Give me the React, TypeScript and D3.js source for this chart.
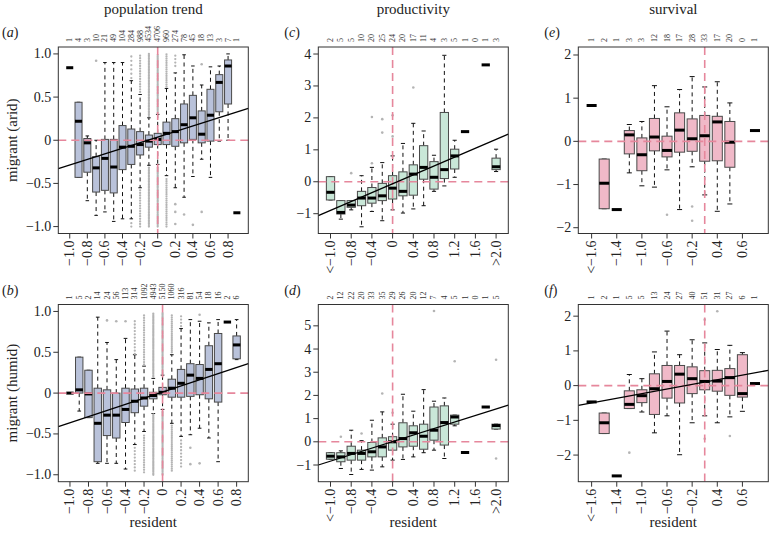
import React from 'react';
import * as d3 from 'd3';

// ---------- Panel (a): population trend, arid ----------
const countsA = [1, 4, 3, 10, 21, 49, 104, 284, 988, 4534, 4706, 960, 274, 78, 45, 18, 13, 3, 7, 1];
const medA = [0.84, 0.22, -0.03, -0.32, -0.21, -0.31, -0.08, -0.07, -0.05, -0.01, 0.01, 0.08, 0.10, 0.18, 0.26, 0.07, 0.29, 0.67, 0.86, -0.84];
const q1A = [0.84, -0.43, -0.37, -0.60, -0.58, -0.61, -0.34, -0.28, -0.17, -0.08, -0.05, -0.05, -0.07, -0.03, 0.01, -0.03, -0.01, 0.33, 0.42, -0.84];
const q3A = [0.84, 0.44, 0.02, -0.19, 0.01, 0.01, 0.17, 0.13, 0.10, 0.06, 0.08, 0.21, 0.25, 0.42, 0.52, 0.34, 0.59, 0.76, 0.93, -0.84];
const loA = [0.84, -0.43, -0.70, -0.87, -0.83, -0.94, -0.91, -0.91, -0.55, -0.29, -0.28, -0.41, -0.55, -0.66, -0.42, -0.22, -0.43, -0.01, 0.0, -0.84];
const hiA = [0.84, 0.44, 0.05, 0.0, 0.9, 0.9, 0.9, 0.69, 0.53, 0.26, 0.30, 0.60, 0.78, 0.99, 0.86, 0.64, 0.85, 0.86, 1.0, -0.84];
const outA: [number, number][] = [[4, 0.92], [13, -0.74], [13, -0.83], [13, -0.97], [14, -0.86], [15, -0.98], [16, 0.88], [16, -0.83]];
const bandsA: [number, number, number, number][] = [
  [8, 0.72, 1.0, 0.05], [8, -1.0, -0.96, 0.04],
  [9, 0.56, 1.0, 0.03], [9, -1.0, -0.57, 0.03],
  [10, 0.28, 1.0, 0.018], [10, -1.0, -0.31, 0.018],
  [11, 0.32, 1.0, 0.018], [11, -1.0, -0.30, 0.018],
  [12, 0.62, 1.0, 0.025], [12, -1.0, -0.43, 0.025],
  [13, 0.86, 1.0, 0.04],
];
const lineA: [number, number] = [-0.33, 0.37];

// ---------- Panel (b): population trend, humid ----------
const countsB = [1, 5, 2, 14, 24, 56, 113, 314, 1092, 4943, 5150, 1060, 316, 81, 54, 18, 16, 2, 6];
const medB = [0.0, 0.04, -0.01, -0.37, -0.27, -0.27, -0.20, -0.10, -0.06, -0.03, 0.01, 0.06, 0.12, 0.22, 0.18, 0.29, 0.36, 0.87, 0.59];
const q1B = [0.0, 0.0, -0.30, -0.84, -0.52, -0.55, -0.36, -0.24, -0.16, -0.07, -0.02, -0.05, -0.05, -0.04, -0.02, -0.07, -0.11, 0.87, 0.42];
const q3B = [0.0, 0.44, 0.28, 0.06, 0.04, 0.0, 0.06, 0.05, 0.06, 0.01, 0.07, 0.17, 0.29, 0.36, 0.35, 0.58, 0.73, 0.87, 0.70];
const loB = [0.0, -0.22, -0.30, -0.86, -0.86, -0.86, -0.93, -0.63, -0.47, -0.25, -0.20, -0.37, -0.53, -0.51, -0.43, -0.55, -0.84, 0.87, 0.41];
const hiB = [0.0, 0.44, 0.28, 0.93, 0.62, 0.41, 0.67, 0.47, 0.33, 0.18, 0.22, 0.47, 0.79, 0.90, 0.88, 0.86, 0.90, 0.87, 0.90];
const outB: [number, number][] = [[5, 0.89], [6, 0.88], [7, 0.88], [14, -0.67], [14, -0.87], [15, 0.96], [15, -0.86]];
const bandsB: [number, number, number, number][] = [
  [8, 0.48, 0.88, 0.04], [8, -0.95, -0.66, 0.04],
  [9, 0.35, 0.96, 0.03], [9, -0.97, -0.50, 0.03],
  [10, 0.20, 0.98, 0.018], [10, -1.0, -0.26, 0.018],
  [11, 0.24, 0.98, 0.018], [11, -1.0, -0.21, 0.018],
  [12, 0.50, 0.96, 0.025], [12, -0.95, -0.40, 0.025],
  [13, 0.82, 0.96, 0.04], [13, -0.90, -0.56, 0.04],
];
const lineB: [number, number] = [-0.41, 0.36];

const labelsTrend = ['\u22121.0', '\u22120.8', '\u22120.6', '\u22120.4', '\u22120.2', '0', '0.2', '0.4', '0.6', '0.8'];

// ---------- Panel (c): productivity, arid ----------
const countsC = [2, 5, 5, 10, 20, 25, 24, 20, 17, 11, 4, 3, 5, 1, 0, 1, 3];
const medC = [-0.33, -0.96, -0.73, -0.51, -0.51, -0.44, -0.20, -0.30, 0.24, 0.45, 0.14, 0.38, 0.81, 1.57, null, 3.66, 0.47];
const q1C = [-0.57, -1.01, -0.80, -0.75, -0.67, -0.59, -0.54, -0.44, -0.42, 0.08, -0.23, 0.10, 0.40, 1.57, null, 3.66, 0.38];
const q3C = [0.16, -0.59, -0.59, -0.30, -0.18, -0.05, 0.19, 0.31, 0.53, 1.13, 0.63, 2.17, 1.02, 1.57, null, 3.66, 0.74];
const loC = [-0.57, -1.17, -0.88, -1.41, -0.93, -1.22, -0.88, -0.98, -0.85, -0.75, -0.30, -0.13, 0.14, 1.57, null, 3.66, 0.32];
const hiC = [0.16, -0.59, -0.59, 0.19, 0.45, 0.60, 0.81, 1.20, 1.83, 1.59, 0.83, 3.96, 1.30, 1.57, null, 3.66, 1.02];
const outC: [number, number][] = [[3, 0.27], [5, 2.03], [5, 0.58], [6, 1.96], [6, 1.54], [7, 2.08], [7, 1.42], [9, 2.95]];
const lineC: [number, number] = [-1.06, 1.49];

// ---------- Panel (d): productivity, humid ----------
const countsD = [2, 12, 22, 20, 33, 35, 29, 26, 20, 12, 7, 4, 5, 1, 0, 1, 5];
const medD = [-0.62, -0.65, -0.50, -0.50, -0.43, -0.22, 0.0, 0.14, 0.39, 0.24, 0.50, 0.83, 1.07, -0.46, null, 1.50, 0.70];
const q1D = [-0.75, -0.86, -0.79, -0.79, -0.65, -0.65, -0.36, -0.22, -0.19, -0.32, 0.07, -0.14, 0.76, -0.46, null, 1.50, 0.55];
const q3D = [-0.47, -0.47, -0.19, -0.36, -0.03, 0.17, 0.22, 0.82, 0.69, 0.76, 1.50, 1.55, 1.15, -0.46, null, 1.50, 0.76];
const loD = [-0.75, -1.15, -1.41, -1.19, -1.22, -1.08, -0.79, -0.76, -0.65, -0.47, -0.36, -0.72, 0.69, -0.46, null, 1.50, 0.55];
const hiD = [-0.47, -0.39, 0.50, 0.05, 0.93, 1.29, 0.76, 2.05, 1.32, 2.25, 1.75, 1.89, 1.15, -0.46, null, 1.50, 0.76];
const outD: [number, number][] = [[2, 0.22], [4, 0.36], [6, 2.08], [7, 1.25], [11, 5.64], [13, 3.47], [17, 3.54], [17, -0.72]];
const lineD: [number, number] = [-1.0, 1.58];

const labelsProd = ['<\u22121.0', '\u22120.8', '\u22120.4', '0', '0.4', '0.8', '1.2', '1.6', '>2.0'];

// ---------- Panel (e): survival, arid ----------
const countsE = [1, 2, 1, 3, 3, 12, 18, 17, 28, 33, 17, 20, 0, 1];
const medE = [0.83, -0.97, -1.58, 0.15, -0.31, 0.10, -0.21, 0.26, 0.06, 0.13, 0.45, -0.02, null, 0.25];
const q1E = [0.83, -1.56, -1.58, -0.29, -0.68, -0.22, -0.36, -0.25, -0.23, -0.46, -0.45, -0.60, null, 0.25];
const q3E = [0.83, -0.41, -1.58, 0.25, 0.08, 0.53, 0.12, 0.66, 0.52, 0.60, 0.58, 0.46, null, 0.25];
const loE = [0.83, -1.56, -1.58, -0.73, -1.03, -1.06, -0.66, -1.58, -0.59, -1.24, -1.62, -1.45, null, 0.25];
const hiE = [0.83, -0.41, -1.58, 0.39, 0.46, 1.29, 0.80, 1.20, 1.50, 1.26, 1.38, 0.89, null, 0.25];
const outE: [number, number][] = [[7, -1.70], [9, -1.51], [9, -1.84]];

// ---------- Panel (f): survival, humid ----------
const countsF = [1, 2, 1, 5, 5, 13, 24, 27, 40, 51, 31, 27, 6, 1];
const medF = [-0.47, -1.07, -2.60, -0.54, -0.29, -0.09, 0.12, 0.33, 0.20, 0.12, 0.13, 0.23, -0.23, 0.06];
const q1F = [-0.47, -1.38, -2.60, -0.66, -0.49, -0.83, -0.36, -0.50, -0.23, -0.12, -0.16, -0.28, -0.33, 0.06];
const q3F = [-0.47, -0.79, -2.60, -0.15, -0.12, 0.34, 0.58, 0.58, 0.54, 0.43, 0.44, 0.49, 0.89, 0.06];
const loF = [-0.47, -1.38, -2.60, -0.66, -0.76, -1.36, -0.87, -1.99, -1.07, -0.87, -1.07, -0.90, -0.74, 0.06];
const hiF = [-0.47, -0.79, -2.60, 0.32, 0.20, 0.97, 1.57, 0.89, 1.32, 1.23, 1.04, 1.16, 0.95, 0.06];
const outF: [number, number][] = [[4, -1.93], [10, 1.90], [10, -1.53], [11, 2.14], [12, -1.45]];
const lineF: [number, number] = [-0.57, 0.44];

const labelsSurv = ['<\u22121.6', '\u22121.4', '\u22121.0', '\u22120.6', '\u22120.2', '0.4', '0.6'];

const titles = ['population trend', 'productivity', 'survival'];
const yTitles = ['migrant (arid)', 'migrant (humid)'];

// ---------- layout ----------
const FONT = "'Liberation Serif', 'Times New Roman', serif";
const PW = 190;
const COL_LEFT = [58.3, 318.3, 578.3];
const ROW_TOP = [47, 304.5];
const ROW_BOT = [233.5, 481.7];
const FILLS = ['#b9c2da', '#c9e7d8', '#f0b9c8'];
const REF = '#e6879c';

type Panel = {
  tag: string; col: number; row: number;
  counts: number[]; med: (number | null)[]; q1: (number | null)[]; q3: (number | null)[];
  lo: (number | null)[]; hi: (number | null)[];
  labels: string[]; yDomain: [number, number]; yTicks: number[]; yLabels: string[];
  zeroPos: number; line?: [number, number]; outs: [number, number][];
  bands?: [number, number, number, number][];
};

const m = (v: number) => (v < 0 ? '\u2212' + Math.abs(v) : String(v));
const m1 = (v: number) => (v === 0 ? '0' : v < 0 ? '\u2212' + Math.abs(v).toFixed(1) : v.toFixed(1));

const panels: Panel[] = [
  { tag: 'a', col: 0, row: 0, counts: countsA, med: medA, q1: q1A, q3: q3A, lo: loA, hi: hiA, labels: labelsTrend,
    yDomain: [-1.08, 1.08], yTicks: [-1, -0.5, 0, 0.5, 1], yLabels: [-1, -0.5, 0, 0.5, 1].map(m1), zeroPos: 11, line: lineA, outs: outA, bands: bandsA },
  { tag: 'b', col: 0, row: 1, counts: countsB, med: medB, q1: q1B, q3: q3B, lo: loB, hi: hiB, labels: labelsTrend,
    yDomain: [-1.085, 1.085], yTicks: [-1, -0.5, 0, 0.5, 1], yLabels: [-1, -0.5, 0, 0.5, 1].map(m1), zeroPos: 11, line: lineB, outs: outB, bands: bandsB },
  { tag: 'c', col: 1, row: 0, counts: countsC, med: medC, q1: q1C, q3: q3C, lo: loC, hi: hiC, labels: labelsProd,
    yDomain: [-1.62, 4.22], yTicks: [-1, 0, 1, 2, 3, 4], yLabels: [-1, 0, 1, 2, 3, 4].map(m), zeroPos: 7, line: lineC, outs: outC },
  { tag: 'd', col: 1, row: 1, counts: countsD, med: medD, q1: q1D, q3: q3D, lo: loD, hi: hiD, labels: labelsProd,
    yDomain: [-1.72, 5.92], yTicks: [-1, 0, 1, 2, 3, 4, 5], yLabels: [-1, 0, 1, 2, 3, 4, 5].map(m), zeroPos: 7, line: lineD, outs: outD },
  { tag: 'e', col: 2, row: 0, counts: countsE, med: medE, q1: q1E, q3: q3E, lo: loE, hi: hiE, labels: labelsSurv,
    yDomain: [-2.134, 2.185], yTicks: [-2, -1, 0, 1, 2], yLabels: [-2, -1, 0, 1, 2].map(m), zeroPos: 10, outs: outE },
  { tag: 'f', col: 2, row: 1, counts: countsF, med: medF, q1: q1F, q3: q3F, lo: loF, hi: hiF, labels: labelsSurv,
    yDomain: [-2.767, 2.336], yTicks: [-2, -1, 0, 1, 2], yLabels: [-2, -1, 0, 1, 2].map(m), zeroPos: 10, line: lineF, outs: outF },
];

function PanelView({ p }: { p: Panel }) {
  const n = p.counts.length;
  const ext = 0.04 * n;
  const left = COL_LEFT[p.col];
  const top = ROW_TOP[p.row];
  const bottom = ROW_BOT[p.row];
  const x = d3.scaleLinear().domain([0.5 - ext, n + 0.5 + ext]).range([left, left + PW]);
  const y = d3.scaleLinear().domain(p.yDomain).range([bottom, top]);
  const step = x(1) - x(0);
  const bw = step * 0.8;
  const cw = bw * 0.5;
  const positions = d3.range(1, n + 1);
  const labelPos = p.labels.map((_, i) => 1 + 2 * i);

  const bandDots: [number, number][] = [];
  (p.bands || []).forEach(([pos, lo, hi, st]) => {
    d3.range(lo, hi + 1e-9, st).forEach((v) => bandDots.push([pos, v]));
  });

  const lineGen = d3.line<[number, number]>().x((d) => x(d[0])).y((d) => y(d[1]));

  return (
    <g>
      {/* boxes */}
      {positions.map((pos, i) => {
        const md = p.med[i];
        if (md == null) return null;
        const q1 = p.q1[i] as number, q3 = p.q3[i] as number;
        const lo = p.lo[i] as number, hi = p.hi[i] as number;
        const cx = x(pos);
        const single = q1 === q3 && lo === hi;
        return (
          <g key={pos}>
            {!single && hi > q3 && (
              <line x1={cx} x2={cx} y1={y(q3)} y2={y(hi)} stroke="#111" strokeWidth={1} strokeDasharray="4,3.5" />
            )}
            {!single && lo < q1 && (
              <line x1={cx} x2={cx} y1={y(q1)} y2={y(lo)} stroke="#111" strokeWidth={1} strokeDasharray="4,3.5" />
            )}
            {!single && (
              <g stroke="#111" strokeWidth={1}>
                <line x1={cx - cw / 2} x2={cx + cw / 2} y1={y(hi)} y2={y(hi)} />
                <line x1={cx - cw / 2} x2={cx + cw / 2} y1={y(lo)} y2={y(lo)} />
              </g>
            )}
            {!single && (
              <rect x={cx - bw / 2} width={bw} y={y(q3)} height={Math.max(0, y(q1) - y(q3))}
                fill={FILLS[p.col]} stroke="#4a4a4a" strokeWidth={1} />
            )}
            <line x1={cx - bw / 2} x2={cx + bw / 2} y1={y(md)} y2={y(md)} stroke="#000" strokeWidth={3} />
          </g>
        );
      })}
      {/* outliers */}
      <g fill="#b4b4b4">
        {bandDots.map(([pos, v], i) => <circle key={'b' + i} cx={x(pos)} cy={y(v)} r={1.15} />)}
        {p.outs.map(([pos, v], i) => <circle key={'o' + i} cx={x(pos)} cy={y(v)} r={1.3} />)}
      </g>
      {/* reference lines */}
      <line x1={left} x2={left + PW} y1={y(0)} y2={y(0)} stroke={REF} strokeWidth={1.6} strokeDasharray="8,5" />
      <line x1={x(p.zeroPos)} x2={x(p.zeroPos)} y1={top} y2={bottom} stroke={REF} strokeWidth={1.6} strokeDasharray="8,5" />
      {/* regression line */}
      {p.line && (
        <path d={lineGen([[x.domain()[0], p.line[0]], [x.domain()[1], p.line[1]]]) || ''} stroke="#000" strokeWidth={1.3} fill="none" />
      )}
      {/* frame */}
      <rect x={left} y={top} width={PW} height={bottom - top} fill="none" stroke="#333" strokeWidth={1} />
      {/* y axis */}
      {p.yTicks.map((t, i) => (
        <g key={'y' + i}>
          <line x1={left - 5} x2={left} y1={y(t)} y2={y(t)} stroke="#333" />
          <text x={left - 7} y={y(t)} textAnchor="end" dominantBaseline="central" fontSize={14} fontFamily={FONT} fill="#222">
            {p.yLabels[i]}
          </text>
        </g>
      ))}
      {/* x axis */}
      {labelPos.map((pos, i) => (
        <g key={'x' + i}>
          <line x1={x(pos)} x2={x(pos)} y1={bottom} y2={bottom + 5} stroke="#333" />
          <text transform={`translate(${x(pos)},${bottom + 7}) rotate(-90)`} textAnchor="end" dominantBaseline="central"
            fontSize={14} fontFamily={FONT} fill="#222">
            {p.labels[i]}
          </text>
        </g>
      ))}
      {/* counts */}
      {positions.map((pos, i) => (
        <text key={'c' + i} transform={`translate(${x(pos)},${top - 5}) rotate(-90)`} textAnchor="start" dominantBaseline="central"
          fontSize={8} fontFamily={FONT} fill="#333">
          {p.counts[i]}
        </text>
      ))}
      {/* panel tag */}
      <text x={p.col === 0 ? 2 : left - 34} y={top - 10} fontSize={14} fontFamily={FONT} fill="#222">
        (<tspan fontStyle="italic">{p.tag}</tspan>)
      </text>
      {p.row === 1 && (
        <text x={left + PW / 2} y={527} textAnchor="middle" fontSize={15} fontFamily={FONT} fill="#222">resident</text>
      )}
      {p.row === 0 && (
        <text x={left + PW / 2} y={14} textAnchor="middle" fontSize={15} fontFamily={FONT} fill="#222">{titles[p.col]}</text>
      )}
      {p.col === 0 && (
        <text transform={`translate(17,${(top + bottom) / 2}) rotate(-90)`} textAnchor="middle" fontSize={15} fontFamily={FONT} fill="#222">
          {yTitles[p.row]}
        </text>
      )}
    </g>
  );
}

export default function App() {
  return (
    <svg width={771} height={539} style={{ position: 'absolute', left: 0, top: 0, background: '#fff' }}>
      <rect width={771} height={539} fill="#fff" />
      {panels.map((p) => <PanelView key={p.tag} p={p} />)}
    </svg>
  );
}
